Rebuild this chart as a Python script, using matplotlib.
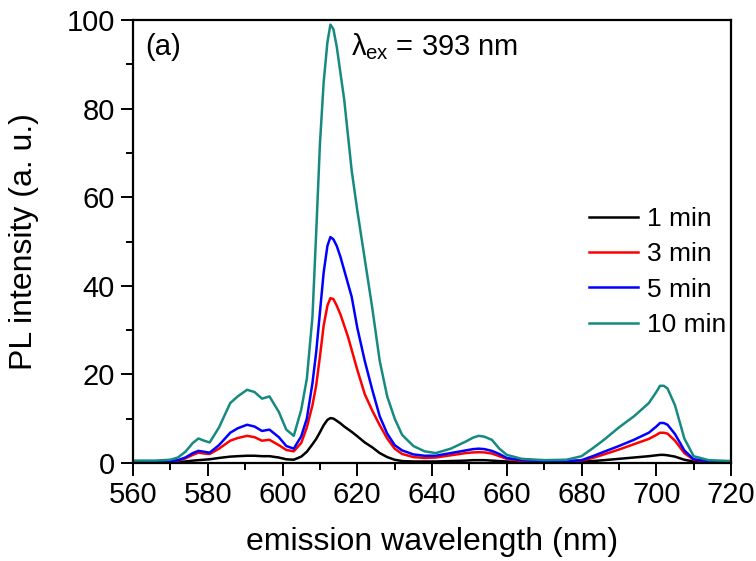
import matplotlib
matplotlib.use("Agg")
import matplotlib.pyplot as plt
from matplotlib.ticker import MultipleLocator

plt.rcParams['font.family'] = ['Liberation Sans', 'DejaVu Sans']
plt.rcParams['mathtext.fontset'] = 'custom'
plt.rcParams['mathtext.rm'] = 'Liberation Sans'
plt.rcParams['mathtext.it'] = 'Liberation Sans'

# wavelength grid (nm)
wl = [560, 566, 570, 572, 574, 576, 577.5, 579, 580.5, 583, 586, 588, 590.5, 592.5,
      594.5, 596.5, 599, 601, 603, 605, 606.5, 608, 609, 610, 611, 612, 612.8, 613.6,
      614.5, 615.5, 616.5, 617.5, 618.5, 620, 622, 624, 626, 628, 630, 632, 635, 638,
      641, 645, 649, 651, 652.5, 654, 656, 658, 660, 664, 670, 676, 680, 683, 686,
      690, 694, 698, 700, 701, 702, 703, 705, 707.5, 710, 714, 720]

pl_1min = [0.2, 0.2, 0.2, 0.2, 0.3, 0.5, 0.6, 0.7, 0.8, 1.1, 1.4, 1.5, 1.6, 1.6,
           1.5, 1.5, 1.2, 0.8, 0.7, 1.4, 2.5, 4.2, 5.4, 6.9, 8.5, 9.7, 10.1, 10.0,
           9.5, 8.9, 8.2, 7.6, 7.0, 6.0, 4.6, 3.5, 2.2, 1.3, 0.7, 0.4, 0.3, 0.3,
           0.3, 0.4, 0.5, 0.6, 0.6, 0.6, 0.5, 0.4, 0.3, 0.2, 0.2, 0.2, 0.3, 0.4, 0.6,
           0.9, 1.2, 1.5, 1.7, 1.8, 1.8, 1.7, 1.4, 0.7, 0.3, 0.2, 0.2]

pl_3min = [0.3, 0.3, 0.3, 0.5, 1.0, 1.8, 2.3, 2.1, 2.0, 3.2, 5.0, 5.6, 6.1, 5.8,
           5.0, 5.2, 4.0, 2.9, 2.6, 4.5, 8.0, 13.0, 17.5, 24.0, 31.0, 35.5, 37.2, 37.0,
           35.5, 33.5, 31.0, 28.5, 25.5, 21.0, 15.5, 11.8, 8.5, 5.5, 3.2, 2.0, 1.3, 1.1,
           1.2, 1.7, 2.2, 2.35, 2.4, 2.35, 2.1, 1.5, 0.9, 0.4, 0.3, 0.3, 0.5, 1.1, 1.9,
           3.0, 4.2, 5.4, 6.3, 6.8, 6.8, 6.6, 5.0, 2.2, 0.7, 0.3, 0.3]

pl_5min = [0.3, 0.3, 0.4, 0.6, 1.2, 2.2, 2.7, 2.5, 2.3, 4.0, 6.8, 7.8, 8.6, 8.2,
           7.2, 7.5, 5.8, 3.8, 3.2, 6.0, 10.0, 18.0, 25.0, 34.0, 43.0, 49.0, 51.0, 50.5,
           49.0, 46.5, 43.5, 40.5, 37.5, 30.5, 23.0, 16.5, 10.5, 6.6, 4.0, 2.8, 1.9, 1.6,
           1.6, 2.2, 2.8, 3.1, 3.2, 3.1, 2.7, 2.0, 1.1, 0.6, 0.4, 0.4, 0.6, 1.5, 2.5,
           3.8, 5.2, 6.8, 8.2, 9.0, 9.0, 8.6, 6.5, 2.8, 0.8, 0.4, 0.3]

pl_10min = [0.5, 0.5, 0.7, 1.2, 2.5, 4.5, 5.5, 5.0, 4.6, 8.0, 13.5, 15.0, 16.5, 16.0,
            14.5, 15.0, 11.5, 7.5, 6.1, 12.0, 19.0, 33.0, 52.0, 72.0, 86.0, 95.0, 99.0, 98.0,
            94.0, 88.0, 82.0, 74.0, 66.0, 57.0, 46.0, 35.0, 23.0, 15.0, 10.0, 6.3, 3.8, 2.6,
            2.2, 3.2, 4.8, 5.7, 6.1, 5.9, 5.2, 3.2, 1.8, 0.9, 0.6, 0.7, 1.5, 3.3, 5.2,
            8.0, 10.5, 13.5, 16.0, 17.4, 17.4, 16.8, 13.0, 5.5, 1.5, 0.6, 0.4]

labels = ["1 min", "3 min", "5 min", "10 min"]
colors = ["#000000", "#ff0000", "#0000ff", "#168a80"]

fig = plt.figure(figsize=(7.56, 5.61), dpi=100)
ax = fig.add_axes([0.176, 0.175, 0.791, 0.789])

for y, lab, c in zip([pl_1min, pl_3min, pl_5min, pl_10min], labels, colors):
    ax.plot(wl, y, color=c, lw=1.8, label=lab)

ax.set_xlim(560, 720)
ax.set_ylim(0, 100)
ax.xaxis.set_major_locator(MultipleLocator(20))
ax.xaxis.set_minor_locator(MultipleLocator(10))
ax.yaxis.set_major_locator(MultipleLocator(20))
ax.yaxis.set_minor_locator(MultipleLocator(10))
ax.tick_params(which='both', direction='out', width=1.4, labelsize=21, pad=4,
               top=False, right=False)
ax.tick_params(which='major', length=9)
ax.tick_params(which='minor', length=5)
for s in ax.spines.values():
    s.set_linewidth(1.6)

ax.set_xlabel("emission wavelength (nm)", fontsize=23, labelpad=13)
ax.set_ylabel("PL intensity (a. u.)", fontsize=23, labelpad=20)

ax.text(0.02, 0.94, "(a)", transform=ax.transAxes, fontsize=21, va='center')
ax.text(0.365, 0.94, r"$\lambda_{\mathrm{ex}}$ = 393 nm", transform=ax.transAxes,
        fontsize=21, va='center')

ax.legend(loc='upper right', bbox_to_anchor=(1.032, 0.632), frameon=False, fontsize=19,
          handlelength=1.86, labelspacing=0.43, handletextpad=0.35)

plt.savefig("out.png", dpi=100)
